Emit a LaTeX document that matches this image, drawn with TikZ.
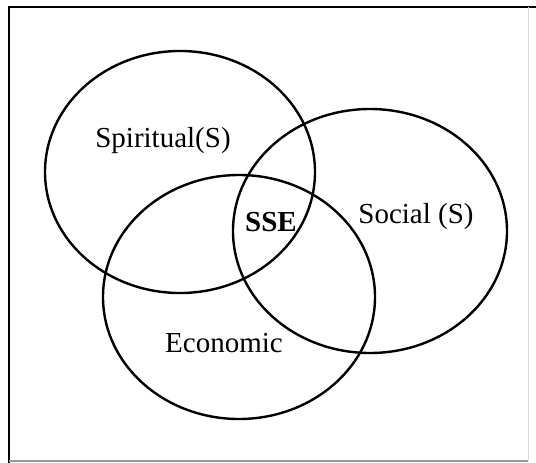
\documentclass[tikz,border=0pt]{standalone}
\usepackage{fontspec}
\setmainfont{Liberation Serif}
\begin{document}
\begin{tikzpicture}[x=1pt,y=-1pt,
  ring/.style={draw=black,line width=2.4pt},
  lbl/.style={font=\fontsize{29}{32}\selectfont,inner sep=0pt},
  framein/.style={draw=black,line width=2.2pt},
  frameout/.style={draw=black!40,line width=1.4pt},
  framefaint/.style={draw=black!15,line width=1pt}]
\useasboundingbox (0,0) rectangle (536,463);
% frame
\draw[framein] (9,463) -- (9,7) -- (536,7);
\draw[framefaint] (528,7) -- (528,461);
\draw[frameout] (9,461) -- (528,461);
% the three sets
\draw[ring] (180,172) ellipse [x radius=135, y radius=121];
\draw[ring] (370,231) ellipse [x radius=137, y radius=122];
\draw[ring] (239,297) ellipse [x radius=136, y radius=122];
% labels
\node[lbl] (spiritual) at (163,141) {Spiritual(S)};
\node[lbl] (social) at (416,217) {Social (S)};
\node[lbl,font=\fontsize{29}{32}\selectfont\bfseries] (sse) at (271,222) {SSE};
\node[lbl] (economic) at (224,343) {Economic};
\end{tikzpicture}
\end{document}
